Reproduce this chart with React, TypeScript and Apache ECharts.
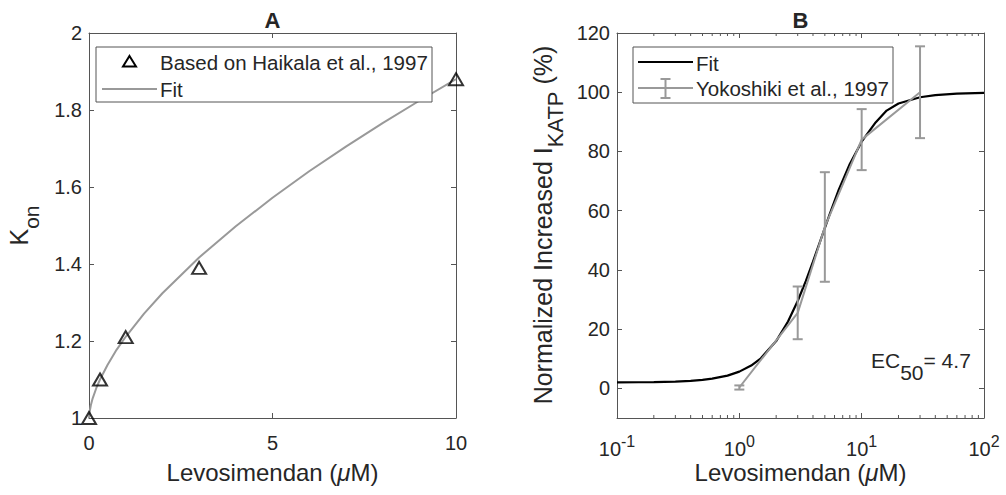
import React, { useEffect, useRef } from 'react';
import * as echarts from 'echarts';

// Panel A data
const kOnX = [0, 0.3, 1, 3, 10];
const kOnY = [1.0, 1.1, 1.21, 1.39, 1.88];
const fitAX = [0, 0.01, 0.05, 0.1, 0.2, 0.3, 0.5, 0.75, 1, 1.5, 2, 3, 4, 5, 6, 7, 8, 9, 10];
const fitAY = [1.0, 1.012, 1.033, 1.051, 1.078, 1.1, 1.137, 1.177, 1.211, 1.271, 1.324, 1.417, 1.498, 1.572, 1.641, 1.705, 1.766, 1.824, 1.88];

// Panel B data
const yokX = [1, 3, 5, 10, 30];
const yokY = [0.3, 25.5, 54.5, 84, 100];
const yokErr = [0.7, 8.9, 18.5, 10.3, 15.5];
const fitBX = [0.1, 0.15, 0.2, 0.3, 0.4, 0.5, 0.6, 0.8, 1, 1.25, 1.5, 2, 2.5, 3, 3.5, 4, 4.7, 5.5, 6.5, 8, 10, 13, 16, 20, 30, 40, 60, 100];
const fitBY = [2.03, 2.07, 2.13, 2.3, 2.55, 2.88, 3.28, 4.32, 5.66, 7.72, 10.17, 15.98, 22.6, 29.5, 36.3, 42.8, 51.0, 59.0, 67.1, 75.8, 83.3, 89.8, 93.8, 96.2, 98.3, 99.0, 99.5, 99.8];

// Axis ticks
const yTicksB = [0, 20, 40, 60, 80, 100, 120];
const yMinB = -10;
const yMaxB = 120;
const minorTicksB = [0.2, 0.3, 0.4, 0.5, 0.6, 0.7, 0.8, 0.9, 2, 3, 4, 5, 6, 7, 8, 9, 20, 30, 40, 50, 60, 70, 80, 90];

const FONT = '"Liberation Sans", Arial, Helvetica, sans-serif';
const TXT = '#262626';
const AXC = '#555555';
const GRAY = '#999999';

export default function App() {
  const ref = useRef<HTMLDivElement>(null);
  useEffect(() => {
    document.body.style.margin = '0';
    const chart = echarts.init(ref.current!, null, { renderer: 'svg' });

    const axisLine = { show: true, onZero: false, lineStyle: { color: AXC, width: 1 } };
    const tick = { show: true, inside: true, length: 5, lineStyle: { color: AXC, width: 1 } };
    const label = { fontSize: 20, color: TXT, fontFamily: FONT };

    const xName = {
      text: '{n|Levosimendan (}{m|μ}{n|M)}', align: 'center', verticalAlign: 'middle',
      rich: { n: { fontSize: 24, fontFamily: FONT, fill: TXT }, m: { fontSize: 24, fontFamily: FONT, fontStyle: 'italic', fill: TXT } },
    };

    const option: any = {
      animation: false,
      backgroundColor: '#ffffff',
      grid: [
        { left: 89, top: 33, width: 367, height: 385 },
        { left: 617, top: 33, width: 367, height: 385 },
      ],
      xAxis: [
        { gridIndex: 0, type: 'value', min: 0, max: 10, interval: 5, position: 'bottom', axisLine, axisTick: tick, splitLine: { show: false }, axisLabel: { ...label, margin: 15 } },
        { gridIndex: 0, type: 'value', min: 0, max: 10, interval: 5, position: 'top', axisLine, axisTick: tick, splitLine: { show: false }, axisLabel: { show: false } },
        {
          gridIndex: 1, type: 'log', logBase: 10, min: 0.1, max: 100, position: 'bottom', axisLine, axisTick: tick, splitLine: { show: false },
          axisLabel: {
            margin: 15,
            formatter: (v: number) => '{b|10}{s|' + Math.round(Math.log10(v)) + '}',
            rich: {
              b: { fontSize: 20, color: TXT, fontFamily: FONT, padding: [6, 0, 0, 0], verticalAlign: 'top' },
              s: { fontSize: 16, color: TXT, fontFamily: FONT, verticalAlign: 'top' },
            },
          },
        },
        { gridIndex: 1, type: 'log', logBase: 10, min: 0.1, max: 100, position: 'top', axisLine, axisTick: tick, splitLine: { show: false }, axisLabel: { show: false } },
      ],
      yAxis: [
        { gridIndex: 0, type: 'value', min: 1, max: 2, interval: 0.2, position: 'left', axisLine, axisTick: tick, splitLine: { show: false }, axisLabel: { ...label, margin: 7, formatter: (v: number) => String(Math.round(v * 10) / 10) } },
        { gridIndex: 0, type: 'value', min: 1, max: 2, interval: 0.2, position: 'right', axisLine, axisTick: tick, splitLine: { show: false }, axisLabel: { show: false } },
        { gridIndex: 1, type: 'value', min: yMinB, max: yMaxB, position: 'left', axisLine, axisTick: { ...tick, customValues: yTicksB }, splitLine: { show: false }, axisLabel: { ...label, margin: 7, customValues: yTicksB } },
        { gridIndex: 1, type: 'value', min: yMinB, max: yMaxB, position: 'right', axisLine, axisTick: { ...tick, customValues: yTicksB }, splitLine: { show: false }, axisLabel: { show: false } },
      ],
      series: [
        {
          type: 'line', xAxisIndex: 0, yAxisIndex: 0, showSymbol: false, symbol: 'none',
          data: fitAX.map((x, i) => [x, fitAY[i]]),
          lineStyle: { color: GRAY, width: 2 }, z: 2,
        },
        {
          type: 'scatter', xAxisIndex: 0, yAxisIndex: 0, symbol: 'triangle', symbolSize: [14, 12], clip: false,
          data: kOnX.map((x, i) => [x, kOnY[i]]),
          itemStyle: { color: 'rgba(0,0,0,0)', borderColor: '#000000', borderWidth: 2 }, z: 3,
        },
        {
          type: 'line', xAxisIndex: 2, yAxisIndex: 2, showSymbol: false, symbol: 'none',
          data: fitBX.map((x, i) => [x, fitBY[i]]),
          lineStyle: { color: '#000000', width: 2.2 }, z: 2,
        },
        {
          type: 'line', xAxisIndex: 2, yAxisIndex: 2, showSymbol: false, symbol: 'none',
          data: yokX.map((x, i) => [x, yokY[i]]),
          lineStyle: { color: GRAY, width: 2 }, z: 3,
        },
        {
          type: 'custom', xAxisIndex: 2, yAxisIndex: 2, z: 3, silent: true, clip: false,
          data: yokX.map((x, i) => [x, yokY[i] - yokErr[i], yokY[i] + yokErr[i]]),
          encode: { x: 0, y: [1, 2] },
          renderItem: (params: any, api: any) => {
            const x = api.value(0);
            const lo = api.coord([x, api.value(1)]);
            const hi = api.coord([x, api.value(2)]);
            const st = { stroke: GRAY, lineWidth: 2 };
            return {
              type: 'group',
              children: [
                { type: 'line', shape: { x1: lo[0], y1: lo[1], x2: hi[0], y2: hi[1] }, style: st },
                { type: 'line', shape: { x1: lo[0] - 5, y1: lo[1], x2: lo[0] + 5, y2: lo[1] }, style: st },
                { type: 'line', shape: { x1: hi[0] - 5, y1: hi[1], x2: hi[0] + 5, y2: hi[1] }, style: st },
              ],
            };
          },
        },
        {
          type: 'custom', xAxisIndex: 2, yAxisIndex: 2, z: 4, silent: true, clip: false,
          data: minorTicksB.map((v) => [v, yMinB]),
          encode: { x: 0, y: 1 },
          renderItem: (params: any, api: any) => {
            const v = api.value(0);
            const b = api.coord([v, yMinB]);
            const t = api.coord([v, yMaxB]);
            const st = { stroke: AXC, lineWidth: 1 };
            return {
              type: 'group',
              children: [
                { type: 'line', shape: { x1: b[0], y1: b[1], x2: b[0], y2: b[1] - 3 }, style: st },
                { type: 'line', shape: { x1: t[0], y1: t[1], x2: t[0], y2: t[1] + 3 }, style: st },
              ],
            };
          },
        },
      ],
      graphic: [
        { type: 'text', x: 272.5, y: 20, style: { text: 'A', font: `bold 22px ${FONT}`, fill: TXT, align: 'center', verticalAlign: 'middle' } },
        { type: 'text', x: 800.5, y: 20, style: { text: 'B', font: `bold 22px ${FONT}`, fill: TXT, align: 'center', verticalAlign: 'middle' } },
        { type: 'text', x: 272.5, y: 472, style: xName },
        { type: 'text', x: 800.5, y: 472, style: xName },
        {
          type: 'text', x: 24, y: 225.5, rotation: Math.PI / 2,
          style: {
            text: '{n|K}{s|on}', align: 'center', verticalAlign: 'middle',
            rich: {
              n: { fontSize: 25, fontFamily: FONT, fill: TXT, verticalAlign: 'top' },
              s: { fontSize: 21, fontFamily: FONT, fill: TXT, verticalAlign: 'top', padding: [15, 0, 0, 0] },
            },
          },
        },
        {
          type: 'text', x: 548, y: 225, rotation: Math.PI / 2,
          style: {
            text: '{n|Normalized Increased I}{s|KATP}{n| (%)}', align: 'center', verticalAlign: 'middle',
            rich: {
              n: { fontSize: 25, fontFamily: FONT, fill: TXT, verticalAlign: 'top' },
              s: { fontSize: 22, fontFamily: FONT, fill: TXT, verticalAlign: 'top', padding: [14, 0, 0, 0] },
            },
          },
        },
        {
          type: 'text', x: 871, y: 350,
          style: {
            text: '{n|EC}{s|50}{n|= 4.7}', align: 'left', verticalAlign: 'top',
            rich: {
              n: { fontSize: 21, fontFamily: FONT, fill: TXT, verticalAlign: 'top' },
              s: { fontSize: 21, fontFamily: FONT, fill: TXT, verticalAlign: 'top', padding: [12, 0, 0, 0] },
            },
          },
        },
        // Legend A
        { type: 'rect', shape: { x: 96, y: 47, width: 336, height: 55 }, style: { fill: '#ffffff', stroke: AXC, lineWidth: 1 }, z: 10 },
        { type: 'polygon', shape: { points: [[129.5, 56], [136, 66.5], [123, 66.5]] }, style: { fill: 'none', stroke: '#000000', lineWidth: 2 }, z: 11 },
        { type: 'text', x: 160, y: 62, style: { text: 'Based on Haikala et al., 1997', font: `20.5px ${FONT}`, fill: TXT, verticalAlign: 'middle' }, z: 11 },
        { type: 'line', shape: { x1: 102, y1: 89, x2: 157, y2: 89 }, style: { stroke: GRAY, lineWidth: 2 }, z: 11 },
        { type: 'text', x: 160, y: 89, style: { text: 'Fit', font: `20.5px ${FONT}`, fill: TXT, verticalAlign: 'middle' }, z: 11 },
        // Legend B
        { type: 'rect', shape: { x: 633, y: 47, width: 260, height: 56 }, style: { fill: '#ffffff', stroke: AXC, lineWidth: 1 }, z: 10 },
        { type: 'line', shape: { x1: 638, y1: 62, x2: 693, y2: 62 }, style: { stroke: '#000000', lineWidth: 2 }, z: 11 },
        { type: 'text', x: 696, y: 63, style: { text: 'Fit', font: `20.5px ${FONT}`, fill: TXT, verticalAlign: 'middle' }, z: 11 },
        { type: 'line', shape: { x1: 638, y1: 88, x2: 693, y2: 88 }, style: { stroke: GRAY, lineWidth: 2 }, z: 11 },
        { type: 'line', shape: { x1: 665.5, y1: 79, x2: 665.5, y2: 98 }, style: { stroke: GRAY, lineWidth: 2 }, z: 11 },
        { type: 'line', shape: { x1: 660.5, y1: 79, x2: 670.5, y2: 79 }, style: { stroke: GRAY, lineWidth: 2 }, z: 11 },
        { type: 'line', shape: { x1: 660.5, y1: 98, x2: 670.5, y2: 98 }, style: { stroke: GRAY, lineWidth: 2 }, z: 11 },
        { type: 'text', x: 696, y: 88, style: { text: 'Yokoshiki et al., 1997', font: `20.5px ${FONT}`, fill: TXT, verticalAlign: 'middle' }, z: 11 },
      ],
    };
    chart.setOption(option);
    return () => chart.dispose();
  }, []);
  return <div ref={ref} style={{ width: 1006, height: 495, background: '#ffffff' }} />;
}
